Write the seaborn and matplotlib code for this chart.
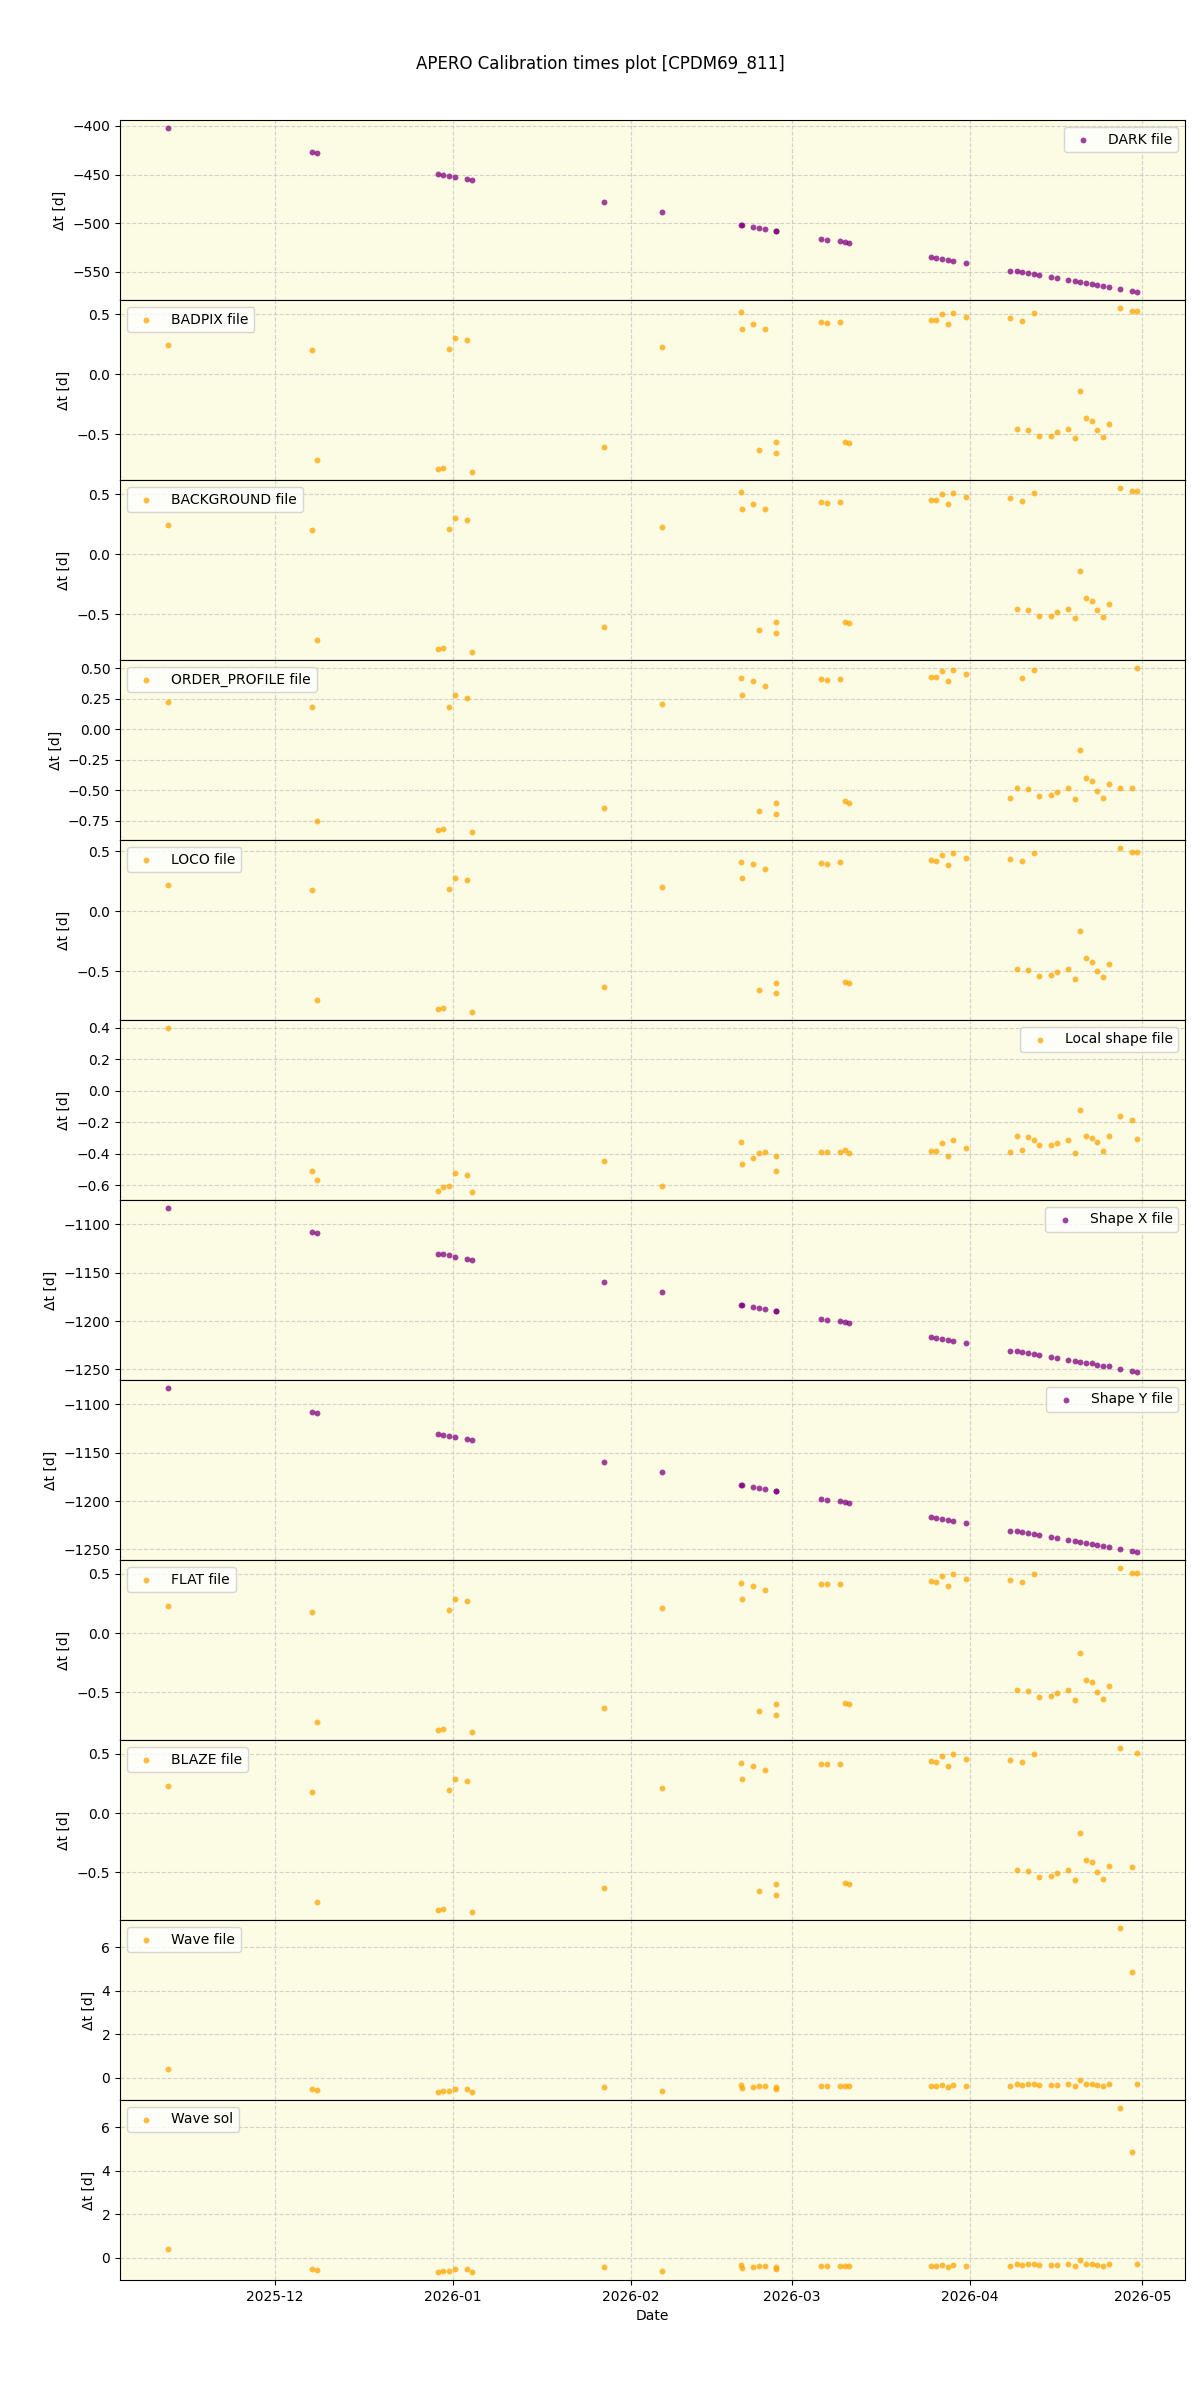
import matplotlib
matplotlib.use("Agg")
import matplotlib.pyplot as plt
import matplotlib.dates as mdates
import seaborn as sns
import pandas as pd

# Observation dates (shared by every panel)
obs_dates = [
    "2025-11-12 11:00", "2025-12-07 11:00", "2025-12-08 08:00", "2025-12-29 10:00",
    "2025-12-30 06:00", "2025-12-31 09:00", "2026-01-01 08:00", "2026-01-03 10:00",
    "2026-01-04 09:00", "2026-01-27 05:00", "2026-02-06 10:00", "2026-02-20 05:00",
    "2026-02-20 06:00", "2026-02-22 07:00", "2026-02-23 06:00", "2026-02-24 06:00",
    "2026-02-26 05:00", "2026-02-26 05:30", "2026-03-06 03:00", "2026-03-07 02:00",
    "2026-03-09 07:00", "2026-03-10 04:00", "2026-03-11 00:00", "2026-03-25 06:00",
    "2026-03-26 03:00", "2026-03-27 02:00", "2026-03-28 02:00", "2026-03-29 00:00",
    "2026-03-31 06:00", "2026-04-08 01:00", "2026-04-09 04:00", "2026-04-10 03:00",
    "2026-04-11 02:00", "2026-04-12 02:00", "2026-04-13 01:00", "2026-04-15 03:00",
    "2026-04-16 02:00", "2026-04-18 01:00", "2026-04-19 06:00", "2026-04-20 03:00",
    "2026-04-21 05:00", "2026-04-22 05:00", "2026-04-23 04:00", "2026-04-24 04:00",
    "2026-04-25 03:00", "2026-04-27 02:00", "2026-04-29 04:00", "2026-04-30 00:00",
]

dark_dt = [-402.4, -427.0, -428.0, -449.7, -450.3, -451.4, -452.4, -454.8, -455.8, -478.4,
           -488.7, -501.7, -501.7, -504.0, -505.0, -505.8, -508.2, -508.2, -516.0, -517.0,
           -518.0, -519.0, -520.2, -534.6, -535.6, -536.6, -538.0, -538.7, -541.0, -549.0,
           -549.3, -550.3, -551.4, -552.0, -553.0, -555.0, -556.0, -558.2, -559.2, -560.3,
           -561.3, -562.3, -563.4, -564.4, -565.4, -567.5, -569.2, -570.5]

badpix_dt = [0.247, 0.205, -0.717, -0.795, -0.784, 0.213, 0.307, 0.288, -0.815, -0.609,
             0.230, 0.521, 0.380, 0.421, -0.634, 0.380, -0.568, -0.659, 0.435, 0.432,
             0.438, -0.568, -0.576, 0.454, 0.454, 0.501, 0.421, 0.512, 0.476, 0.468,
             -0.457, 0.446, -0.468, 0.512, -0.512, -0.512, -0.482, -0.454, -0.535, -0.144,
             -0.368, -0.388, -0.465, -0.526, -0.418, 0.552, 0.526, 0.526]

background_dt = [0.247, 0.205, -0.717, -0.795, -0.784, 0.213, 0.307, 0.288, -0.815, -0.609,
                 0.230, 0.521, 0.380, 0.421, -0.634, 0.380, -0.568, -0.659, 0.435, 0.432,
                 0.438, -0.568, -0.576, 0.454, 0.454, 0.501, 0.421, 0.512, 0.476, 0.468,
                 -0.457, 0.446, -0.468, 0.512, -0.512, -0.512, -0.482, -0.454, -0.535, -0.144,
                 -0.368, -0.388, -0.465, -0.526, -0.418, 0.552, 0.526, 0.526]

order_profile_dt = [0.219, 0.178, -0.751, -0.830, -0.819, 0.181, 0.279, 0.258, -0.841, -0.644,
                    0.203, 0.416, 0.277, 0.392, -0.671, 0.351, -0.603, -0.693, 0.408, 0.400,
                    0.408, -0.592, -0.603, 0.425, 0.425, 0.474, 0.392, 0.482, 0.449, -0.562,
                    -0.485, 0.419, -0.493, 0.482, -0.545, -0.537, -0.518, -0.485, -0.570, -0.175,
                    -0.400, -0.425, -0.507, -0.562, -0.447, -0.479, -0.479, 0.499]

loco_dt = [0.222, 0.180, -0.742, -0.820, -0.809, 0.186, 0.280, 0.260, -0.840, -0.634,
           0.205, 0.413, 0.280, 0.396, -0.659, 0.355, -0.596, -0.684, 0.407, 0.399,
           0.413, -0.593, -0.601, 0.429, 0.421, 0.471, 0.388, 0.488, 0.446, 0.440,
           -0.485, 0.421, -0.493, 0.488, -0.543, -0.535, -0.510, -0.485, -0.565, -0.169,
           -0.393, -0.421, -0.499, -0.551, -0.443, 0.527, 0.496, 0.496]

local_shape_dt = [0.397, -0.507, -0.565, -0.635, -0.609, -0.603, -0.524, -0.533, -0.641, -0.444,
                  -0.603, -0.325, -0.463, -0.425, -0.395, -0.386, -0.412, -0.507, -0.386, -0.386,
                  -0.386, -0.378, -0.393, -0.380, -0.380, -0.329, -0.412, -0.310, -0.361, -0.386,
                  -0.285, -0.374, -0.291, -0.310, -0.342, -0.342, -0.329, -0.310, -0.393, -0.123,
                  -0.285, -0.297, -0.325, -0.380, -0.285, -0.157, -0.183, -0.304]

shape_x_dt = [-1083.5, -1108.2, -1109.3, -1130.6, -1131.3, -1132.3, -1133.6, -1136.0, -1137.1, -1159.7,
              -1170.0, -1183.4, -1183.4, -1185.5, -1186.5, -1187.2, -1189.6, -1189.6, -1197.8, -1198.5,
              -1199.9, -1200.9, -1202.0, -1216.0, -1217.0, -1218.1, -1219.5, -1220.2, -1222.6, -1230.5,
              -1230.8, -1231.8, -1232.9, -1233.9, -1234.9, -1237.0, -1238.0, -1240.1, -1241.1, -1242.1,
              -1242.8, -1243.8, -1244.9, -1245.9, -1246.9, -1249.3, -1251.1, -1252.4]

shape_y_dt = [-1083.5, -1108.2, -1109.3, -1130.9, -1131.6, -1132.6, -1133.6, -1136.0, -1137.1, -1159.7,
              -1170.0, -1183.4, -1183.4, -1185.5, -1186.5, -1187.2, -1189.6, -1189.6, -1197.8, -1198.9,
              -1199.9, -1200.9, -1202.0, -1216.0, -1217.0, -1218.1, -1219.5, -1220.2, -1222.6, -1230.5,
              -1230.8, -1231.8, -1232.9, -1233.9, -1234.9, -1237.0, -1238.0, -1240.1, -1241.1, -1242.1,
              -1243.1, -1244.2, -1245.2, -1246.2, -1247.2, -1249.0, -1251.1, -1252.4]

flat_dt = [0.229, 0.181, -0.746, -0.819, -0.808, 0.192, 0.288, 0.268, -0.833, -0.636,
           0.209, 0.427, 0.285, 0.401, -0.655, 0.362, -0.596, -0.692, 0.418, 0.412,
           0.418, -0.588, -0.596, 0.438, 0.429, 0.480, 0.398, 0.497, 0.455, 0.449,
           -0.477, 0.429, -0.486, 0.497, -0.537, -0.531, -0.508, -0.477, -0.562, -0.167,
           -0.393, -0.410, -0.494, -0.554, -0.444, 0.548, 0.506, 0.506]

blaze_dt = [0.229, 0.181, -0.746, -0.819, -0.808, 0.192, 0.288, 0.268, -0.833, -0.636,
            0.209, 0.427, 0.285, 0.401, -0.655, 0.362, -0.596, -0.692, 0.418, 0.412,
            0.418, -0.588, -0.596, 0.438, 0.429, 0.480, 0.398, 0.497, 0.455, 0.449,
            -0.477, 0.429, -0.486, 0.497, -0.537, -0.531, -0.508, -0.477, -0.562, -0.167,
            -0.393, -0.410, -0.494, -0.554, -0.444, 0.548, -0.452, 0.506]

wave_file_dt = [0.41, -0.50, -0.55, -0.64, -0.60, -0.60, -0.50, -0.53, -0.64, -0.41,
                -0.60, -0.31, -0.47, -0.40, -0.37, -0.37, -0.43, -0.53, -0.37, -0.37,
                -0.37, -0.37, -0.37, -0.37, -0.37, -0.32, -0.41, -0.31, -0.37, -0.37,
                -0.26, -0.35, -0.27, -0.27, -0.31, -0.31, -0.31, -0.27, -0.37, -0.09,
                -0.26, -0.27, -0.31, -0.37, -0.26, 6.87, 4.85, -0.29]

wave_sol_dt = [0.41, -0.50, -0.55, -0.64, -0.60, -0.60, -0.50, -0.53, -0.64, -0.41,
               -0.60, -0.31, -0.47, -0.40, -0.37, -0.37, -0.43, -0.53, -0.37, -0.37,
               -0.37, -0.37, -0.37, -0.37, -0.37, -0.32, -0.41, -0.31, -0.37, -0.37,
               -0.26, -0.35, -0.27, -0.27, -0.31, -0.31, -0.31, -0.27, -0.37, -0.09,
               -0.26, -0.27, -0.31, -0.37, -0.26, 6.87, 4.85, -0.29]

panel_names = ["DARK file", "BADPIX file", "BACKGROUND file", "ORDER_PROFILE file",
               "LOCO file", "Local shape file", "Shape X file", "Shape Y file",
               "FLAT file", "BLAZE file", "Wave file", "Wave sol"]
panel_values = [dark_dt, badpix_dt, background_dt, order_profile_dt, loco_dt, local_shape_dt,
                shape_x_dt, shape_y_dt, flat_dt, blaze_dt, wave_file_dt, wave_sol_dt]
panel_colors = ["purple", "orange", "orange", "orange", "orange", "orange",
                "purple", "purple", "orange", "orange", "orange", "orange"]
legend_locs = ["upper right", "upper left", "upper left", "upper left", "upper left",
               "upper right", "upper right", "upper right", "upper left", "upper left",
               "upper left", "upper left"]

dates = pd.to_datetime(obs_dates)

fig, axes = plt.subplots(len(panel_names), 1, figsize=(12, 24), dpi=100, sharex=True)
fig.subplots_adjust(left=0.1, right=0.9875, top=0.95, bottom=0.05, hspace=0)

for ax, name, vals, col, loc in zip(axes, panel_names, panel_values, panel_colors, legend_locs):
    df = pd.DataFrame({"date": dates, "dt": vals})
    ax.set_facecolor("#fcfbe3")
    sns.scatterplot(data=df, x="date", y="dt", ax=ax, color=col, s=18, alpha=0.75,
                    linewidth=0, label=name)
    ax.grid(True, linestyle="--", color="#c8c8c8", alpha=0.8, linewidth=0.8)
    ax.set_axisbelow(True)
    ax.set_ylabel("Δt [d]")
    ax.set_xlabel("")
    ax.legend(loc=loc)

axes[-1].xaxis.set_major_locator(mdates.MonthLocator())
axes[-1].xaxis.set_major_formatter(mdates.DateFormatter("%Y-%m"))
axes[-1].set_xlabel("Date")

fig.suptitle("APERO Calibration times plot [CPDM69_811]", fontsize=12, y=0.977)
fig.savefig("out.png", dpi=100)
